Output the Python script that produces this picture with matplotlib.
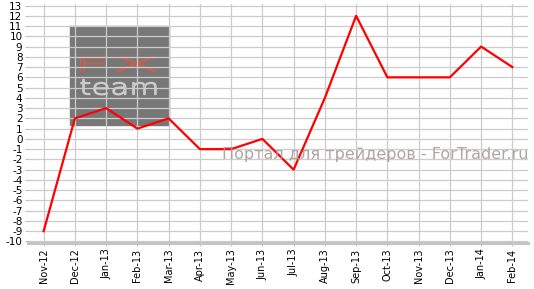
import matplotlib.pyplot as plt
from matplotlib.patches import Rectangle, PathPatch
from matplotlib.textpath import TextPath
from matplotlib.font_manager import FontProperties
from matplotlib.transforms import Affine2D

months = ['Nov-12', 'Dec-12', 'Jan-13', 'Feb-13', 'Mar-13', 'Apr-13', 'May-13', 'Jun-13',
          'Jul-13', 'Aug-13', 'Sep-13', 'Oct-13', 'Nov-13', 'Dec-13', 'Jan-14', 'Feb-14']
values = [-9, 2, 3, 1, 2, -1, -1, 0, -3, 4, 12, 6, 6, 6, 9, 7]
yticks = list(range(-10, 14))

fig = plt.figure(figsize=(5.34, 2.89), dpi=100)
ax = fig.add_axes([28 / 534, 1 - 243 / 289, 500 / 534, 239 / 289])

x = list(range(len(months)))
ax.plot(x, values, color='#ff0000', lw=1.6, zorder=3)

ax.set_xlim(-0.5, len(months) - 0.5)
ax.set_ylim(-10.15, 13.15)
ax.set_xticks(x)
ax.set_xticklabels(months, rotation=90, fontsize=7)
ax.set_yticks(yticks)
ax.set_yticklabels([str(v) for v in yticks], fontsize=7.5)
ax.tick_params(axis='both', length=2, color='#c0c0c0', pad=2)
ax.set_axisbelow(True)
ax.grid(True, color='#cccccc', lw=0.9)
for s in ['top', 'right', 'left']:
    ax.spines[s].set_visible(False)
ax.spines['bottom'].set_color('#c4c4c4')
ax.spines['bottom'].set_linewidth(2.2)

# логотип-подложка
ax.add_patch(Rectangle((0.83, 1.36), 3.17, 9.68, color='#777777', zorder=0.1))


def logo_word(word, x0, x1, y0, y1, color, lw):
    tp = TextPath((0, 0), word, size=10, prop=FontProperties(family='DejaVu Sans', weight='light'))
    bb = tp.get_extents()
    tr = (Affine2D().translate(-bb.x0, -bb.y0)
          .scale((x1 - x0) / bb.width, (y1 - y0) / bb.height).translate(x0, y0))
    ax.add_patch(PathPatch(tr.transform_path(tp), facecolor='none', edgecolor=color,
                           lw=lw, zorder=0.2))


logo_word('FX', 1.19, 3.6, 6.6, 8.0, '#c8604c', 1.0)
logo_word('team', 1.19, 3.6, 4.3, 5.8, '#cccccc', 1.0)

fig.text(528 / 534, 1 - 155 / 289, 'Портал для трейдеров - ForTrader.ru', fontsize=11.5,
         color='#a89a9a', ha='right', va='center', alpha=0.9)

fig.savefig('out.png', dpi=100)
